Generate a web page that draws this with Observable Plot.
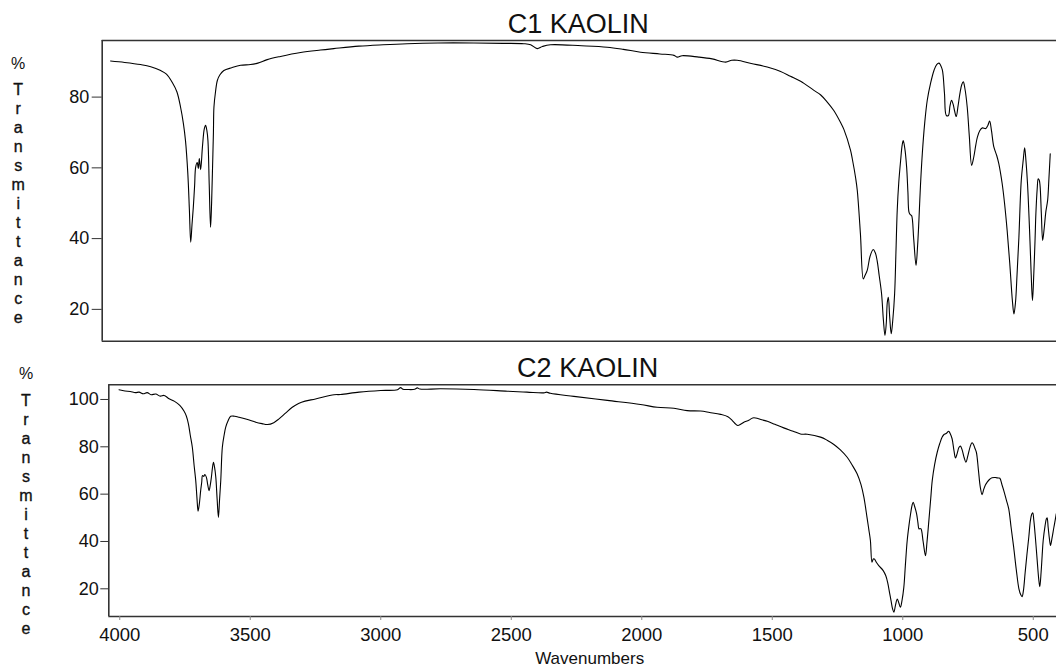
<!DOCTYPE html>
<html><head><meta charset="utf-8">
<script src="https://cdn.jsdelivr.net/npm/d3@7"></script>
<script src="https://cdn.jsdelivr.net/npm/@observablehq/plot@0.6"></script>
<style>
html,body{margin:0;padding:0;background:#fff;}
#chart{position:relative;width:1056px;height:667px;overflow:hidden;background:#fff;}
#chart svg{display:block;}
</style></head><body><div id="chart"></div>
<script>
// ---- Data ----
const panelTitles = ["C1 KAOLIN", "C2 KAOLIN"];
const xAxisLabel = "Wavenumbers";
const yAxisUnit = "%";
const yAxisWord = "Transmittance";
const xTicks = [4000, 3500, 3000, 2500, 2000, 1500, 1000, 500];
const c1YTicks = [20, 40, 60, 80];
const c2YTicks = [20, 40, 60, 80, 100];

const c1Wavenumber = [4004,3950,3889,3850,3812,3790,3768,3750,3736,3725,3717,3708,3702,3697,3692,3687,3682,3678,3672,3668,3664,3659,3652,3645,3640,3635,3631,3626,3621,3617,3614,3610,3608,3602,3595,3585,3570,3540,3506,3468,3440,3404,3353,3276,3200,3149,3053,2960,2868,2750,2612,2500,2421,2395,2370,2350,2319,2200,2102,2040,1974,1900,1846,1833,1815,1751,1700,1648,1625,1604,1550,1489,1440,1400,1361,1310,1284,1259,1234,1208,1195,1170,1163,1150,1144,1132,1121,1115,1106,1095,1083,1075,1068,1060,1051,1044,1038,1033,1029,1025,1020,1014,1008,1001,996,991,985,978,972,968,962,955,950,946,941,936,928,919,913,908,902,895,886,876,863,850,840,831,825,818,810,803,795,789,783,777,771,765,758,751,744,738,732,723,715,706,698,690,684,675,665,652,644,637,630,621,610,602,589,580,570,560,550,544,538,532,525,516,508,503,498,492,484,478,473,468,463,460,455,451,447,444,439,434,428,422,415,410,405];
const c1Transmittance = [90.2,89.8,89.2,88.6,87.5,86.5,84.2,81.5,77.2,72.5,67.7,58.3,48,39.0,44,48.9,55,60.2,61.5,59.8,62.6,59.5,66,71,72.0,70.5,67.7,55,43.2,50,58.3,70,77.2,81.5,84.7,86.3,87.5,88.3,89.0,89.2,89.6,90.6,91.5,92.6,93.3,93.7,94.4,94.8,95.1,95.3,95.3,95.2,95.1,94.8,93.7,94.3,94.8,94.5,94.1,93.5,92.7,92.2,91.8,91.3,91.7,91.3,90.8,89.9,90.4,90.4,89.5,88.5,87.3,85.9,84.5,81.9,80.6,78.6,76.2,72.8,70.8,65.0,62.5,57,53.6,41.4,28.6,29.5,31.0,35,36.9,36,33.8,29.5,24.4,17,12.6,16,22,23.4,18,13.1,17,24.4,36,48.0,56,62.1,66.5,67.7,65.5,60.2,53,47.5,46.8,46.5,40,32.4,38,45.1,55,64.0,72.5,79.1,84,87.6,89.2,89.6,89,87.6,81,74.8,74.8,77.5,79.1,78,76,74.5,77.5,81.0,83.5,84.3,82.5,77.2,69,60.7,63,66.5,68.7,70.5,71.3,71.1,72,73.2,70.5,65.9,63.5,61.2,55.5,50,42.3,33,22.5,18.7,22,30,40.4,56.4,62.5,65.7,62,55.5,42,30,22.5,30,40,47.0,54,56.9,56.5,55.0,47,39.5,43,47.5,50.8,57,64.0];

const c2Wavenumber = [4003,3980,3960,3940,3926,3910,3895,3880,3862,3845,3830,3811,3790,3770,3754,3745,3737,3730,3722,3715,3709,3704,3700,3695,3690,3686,3683,3678,3674,3668,3663,3658,3653,3649,3645,3641,3637,3632,3627,3622,3618,3613,3607,3600,3594,3585,3575,3560,3543,3510,3479,3455,3434,3410,3390,3365,3339,3315,3290,3250,3179,3154,3083,3000,2936,2924,2915,2898,2870,2860,2850,2771,2643,2515,2440,2375,2365,2350,2260,2132,2005,1941,1877,1826,1775,1740,1698,1670,1653,1640,1632,1620,1609,1590,1575,1564,1540,1519,1490,1456,1420,1392,1366,1315,1290,1264,1240,1213,1195,1175,1160,1149,1137,1130,1124,1118,1113,1109,1100,1092,1075,1065,1058,1050,1045,1039,1034,1028,1021,1015,1009,1003,996,990,983,976,970,964,960,955,947,942,938,934,930,922,913,907,900,893,887,878,868,858,849,842,836,830,824,818,811,804,798,792,785,779,772,765,758,750,742,735,730,724,718,710,703,696,690,683,677,668,658,645,635,628,620,613,603,594,585,575,565,555,548,543,538,531,524,517,511,506,502,498,492,485,479,475,470,466,462,455,450,447,443,438,434,428,421,416,412];
const c2Transmittance = [104.1,103.6,103.4,102.9,103.1,102.4,102.9,102.0,102.3,101.4,101.7,100.3,99.2,97.5,95.1,93,89.7,85,79.8,72,65.8,58,52.8,56,61.5,65,67.9,67.5,68.3,67.1,64,61.5,64,67.1,71,73.5,71.5,67.1,58,50.2,57,65.8,79.8,85,88.3,91,92.9,92.9,92.5,91.5,90.4,89.8,89.4,90.2,91.8,94.2,96.7,98.3,99.3,100.2,102.0,102.1,103.1,103.8,104.1,105.0,104.3,104.2,104.3,104.9,104.4,104.5,104.2,103.5,103.1,102.8,103.1,102.6,101.3,99.6,97.9,96.7,96.3,95.3,95.1,94.5,93.7,92.7,91.1,89.6,89.0,89.6,90.4,91.2,92.2,92.2,91.4,90.8,89.5,88.0,86.6,85.4,85.3,84.1,82.8,81.0,78.8,75.6,72.5,68.6,64,58.7,50.2,45,40.4,31.2,32.6,32.6,31,29.8,27.7,25.5,22.7,18,15.0,11.5,10.1,13,15.7,14,12.2,15,20.6,30,40.4,47,51.7,55.5,56.6,55,51.7,48,45.3,45.5,45.3,40,34.0,40,48.8,58,65.8,72.5,77.7,81.5,84.1,85.2,85.5,86,86.6,85.5,83.4,78.5,75.3,77,79.7,80.3,78.5,75.5,73.5,76.5,80,81.7,81.2,79.5,77.7,70,63,59.8,62,64,65.0,66.2,66.9,67,66.8,66.7,64,61.5,57.5,53.8,46,37.5,28,20,17.5,16.7,19,27,34.8,42,48.8,51.5,52.1,49,41.8,32,24,20.9,27,34,40.4,46.5,49.5,50.0,46,41,38.3,41.5,46.0,49,51.7];

// ---- Drawing ----
const FONT = "'Liberation Sans', Arial, Helvetica, sans-serif";
const INK = "#111";
const FRAME = "#333";

function table(ws, ts) { return ws.map((w, i) => ({w, t: ts[i]})); }

function panel({title, data, xDomain, yDomain, yTicks, height, mTop, mBottom, mLeft,
                tickSize, tickPadding, titleDx, unitDx, unitDy, wordDy, showX}) {
  const stacked = yAxisWord.split("").join("\n");
  const marks = [
    Plot.ruleY([yDomain[0], yDomain[1]], {stroke: FRAME, strokeWidth: 1.6}),
    Plot.ruleX([xDomain[0]], {stroke: FRAME, strokeWidth: 1.6}),
    Plot.axisY(yTicks, {tickSize, tickPadding, fontSize: 18, label: null, stroke: FRAME, tickFormat: d => String(d)}),
    Plot.line(data, {x: "w", y: "t", stroke: "#000", strokeWidth: 1.1, curve: "catmull-rom"}),
    Plot.text([title], {frameAnchor: "top", dx: titleDx, dy: -7.7, lineAnchor: "bottom", fontSize: 27, fill: INK}),
    Plot.text([yAxisUnit], {frameAnchor: "top-left", dx: unitDx, dy: unitDy, lineAnchor: "middle", textAnchor: "middle", fontSize: 16, fill: INK}),
    Plot.text([stacked], {frameAnchor: "top-left", dx: unitDx, dy: wordDy, lineAnchor: "middle", textAnchor: "middle", lineHeight: 19 / 16, fontSize: 16, fill: INK, stroke: INK, strokeWidth: 0.35})
  ];
  if (showX) {
    marks.push(Plot.axisX(xTicks, {anchor: "bottom", tickSize: 4, tickPadding: 7, fontSize: 18.5, label: null, stroke: "#888", tickFormat: d => String(d)}));
    marks.push(Plot.text([xAxisLabel], {frameAnchor: "bottom", dx: titleDx + 2, dy: 47, lineAnchor: "bottom", fontSize: 17, fill: INK}));
  }
  return Plot.plot({
    width: 1056, height,
    marginLeft: mLeft, marginRight: 0, marginTop: mTop, marginBottom: mBottom,
    x: {domain: xDomain, axis: null},
    y: {domain: yDomain, axis: null},
    style: {fontFamily: FONT, color: INK, background: "white", overflow: "visible"},
    marks
  });
}

const topPanel = panel({
  title: panelTitles[0], data: table(c1Wavenumber, c1Transmittance),
  xDomain: [4036, 381], yDomain: [11, 96], yTicks: c1YTicks,
  height: 345, mTop: 40, mBottom: 4.3, mLeft: 101.7,
  tickSize: 10, tickPadding: 3, titleDx: -1, unitDx: -84, unitDy: 23.3, wordDy: 162.5, showX: false
});
const bottomPanel = panel({
  title: panelTitles[1], data: table(c2Wavenumber, c2Transmittance),
  xDomain: [4042, 411], yDomain: [8.3, 106.2], yTicks: c2YTicks,
  height: 322, mTop: 39.3, mBottom: 51, mLeft: 108.3,
  tickSize: 8, tickPadding: 2, titleDx: 5, unitDx: -82.8, unitDy: -11, wordDy: 129.4, showX: true
});
const root = document.getElementById("chart");
root.appendChild(topPanel);
root.appendChild(bottomPanel);
</script>
</body></html>
